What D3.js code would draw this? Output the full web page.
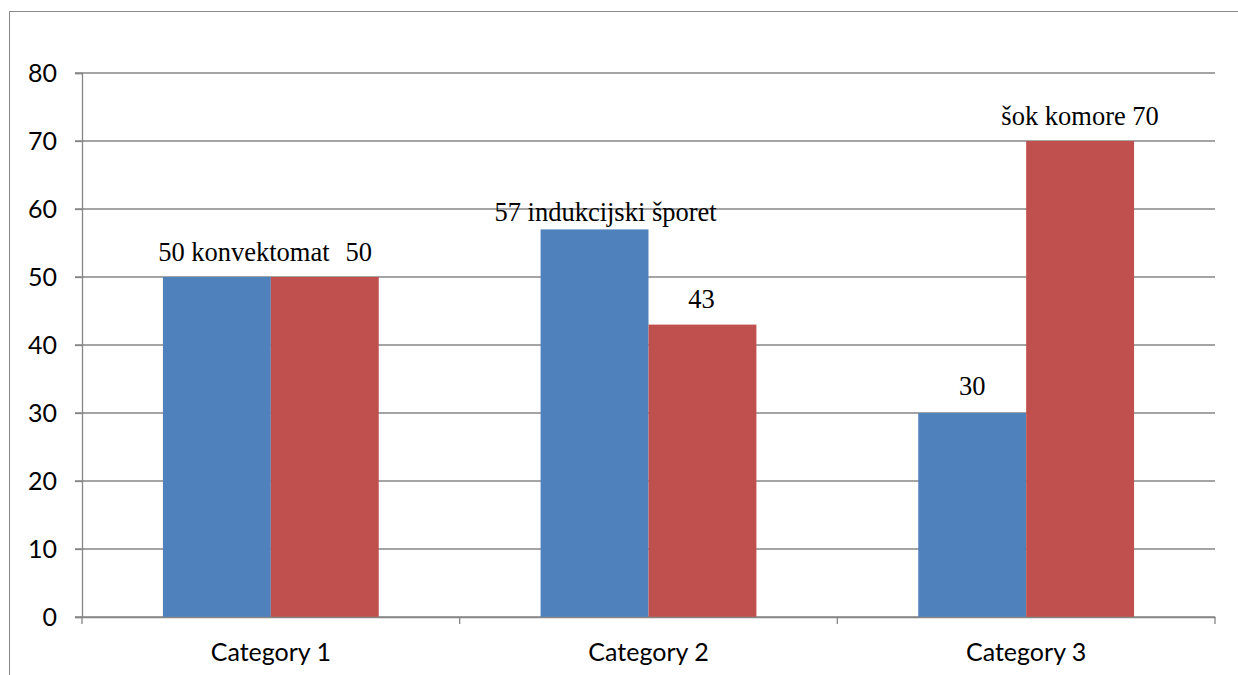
<!DOCTYPE html>
<html>
<head>
<meta charset="utf-8">
<script src="https://cdn.jsdelivr.net/npm/d3@7"></script>
<style>
  html, body { margin: 0; padding: 0; background: #ffffff; }
  svg { display: block; }
</style>
</head>
<body>
<svg id="chart" width="1238" height="675"></svg>
<script>
// Chart data
const categories = ["Category 1", "Category 2", "Category 3"];
const seriesNames = ["Series 1", "Series 2"];
const blueValues = [50, 57, 30];
const redValues = [50, 43, 70];
// Data label templates; {v} is replaced with the bar's value
const blueLabels = ["{v} konvektomat", "{v} indukcijski šporet", "{v}"];
const redLabels = ["{v}", "{v}", "šok komore {v}"];
const yTicks = [0, 10, 20, 30, 40, 50, 60, 70, 80];

const colors = ["#4F81BD", "#C0504D"];
const gridColor = "#868686";

const svg = d3.select("#chart");

// Outer chart frame (runs off the right and bottom edges)
svg.append("rect")
  .attr("x", 9.5).attr("y", 11.5)
  .attr("width", 1300).attr("height", 700)
  .attr("fill", "none")
  .attr("stroke", "#898989")
  .attr("stroke-width", 1);

const plot = { left: 82, right: 1215, top: 73, bottom: 617 };

const x = d3.scaleBand()
  .domain(categories)
  .range([plot.left, plot.right])
  .paddingInner(0).paddingOuter(0);

const inner = d3.scaleBand()
  .domain(seriesNames)
  .range([0, x.bandwidth()])
  .paddingOuter(0.75)
  .paddingInner(0);

const y = d3.scaleLinear().domain([0, 80]).range([plot.bottom, plot.top]);

// Horizontal gridlines
svg.append("g")
  .selectAll("line")
  .data(yTicks)
  .join("line")
  .attr("x1", plot.left - 7).attr("x2", plot.right)
  .attr("y1", d => y(d)).attr("y2", d => y(d))
  .attr("stroke", gridColor)
  .attr("stroke-width", 1.3);

// Y axis
const yAxis = svg.append("g")
  .attr("transform", `translate(${plot.left},0)`)
  .call(d3.axisLeft(y).tickValues(yTicks).tickSize(7).tickPadding(18));
yAxis.select(".domain").attr("stroke", gridColor).attr("stroke-width", 1.3);
yAxis.selectAll(".tick line").attr("stroke", gridColor).attr("stroke-width", 1.3);
yAxis.selectAll(".tick text")
  .attr("fill", "#000")
  .style("font-family", "Lato, 'Open Sans', sans-serif")
  .style("font-size", "25px");

// Bars
const seriesData = [blueValues, redValues];
const groups = svg.append("g")
  .selectAll("g")
  .data(seriesData)
  .join("g")
  .attr("fill", (d, i) => colors[i]);

groups.each(function (values, si) {
  d3.select(this)
    .selectAll("rect")
    .data(values)
    .join("rect")
    .attr("x", (d, ci) => x(categories[ci]) + inner(seriesNames[si]))
    .attr("width", inner.bandwidth())
    .attr("y", d => y(d))
    .attr("height", d => y(0) - y(d));
});

// X axis
const xAxis = svg.append("g")
  .attr("transform", `translate(0,${plot.bottom})`)
  .call(d3.axisBottom(x).tickSize(0).tickPadding(26));
xAxis.select(".domain").attr("stroke", gridColor).attr("stroke-width", 1.3);
xAxis.selectAll(".tick text")
  .attr("fill", "#000")
  .style("font-family", "Lato, 'Open Sans', sans-serif")
  .style("font-size", "25px");

// Category separators on the x axis
const edges = categories.map(c => x(c)).concat([x(categories[categories.length - 1]) + x.bandwidth()]);
svg.append("g")
  .selectAll("line")
  .data(edges)
  .join("line")
  .attr("x1", d => d).attr("x2", d => d)
  .attr("y1", plot.bottom).attr("y2", plot.bottom + 7)
  .attr("stroke", gridColor)
  .attr("stroke-width", 1.3);

// Data labels
const labelTemplates = [blueLabels, redLabels];
// Horizontal / vertical nudges of the labels relative to the bar top centre
const labelShiftX = [[27, 11, 0], [34, -1, 0]];
const labelShiftY = [[-16, -8, -18], [-16, -17, -16]];

const labelRows = [];
seriesData.forEach((values, si) => {
  values.forEach((v, ci) => {
    labelRows.push({
      text: labelTemplates[si][ci].replace("{v}", v),
      cx: x(categories[ci]) + inner(seriesNames[si]) + inner.bandwidth() / 2 + labelShiftX[si][ci],
      cy: y(v) + labelShiftY[si][ci]
    });
  });
});

svg.append("g")
  .selectAll("text")
  .data(labelRows)
  .join("text")
  .attr("x", d => d.cx)
  .attr("y", d => d.cy)
  .attr("text-anchor", "middle")
  .attr("fill", "#000")
  .style("font-family", "'Liberation Serif', 'Times New Roman', serif")
  .style("font-size", "26.5px")
  .text(d => d.text);
</script>
</body>
</html>
